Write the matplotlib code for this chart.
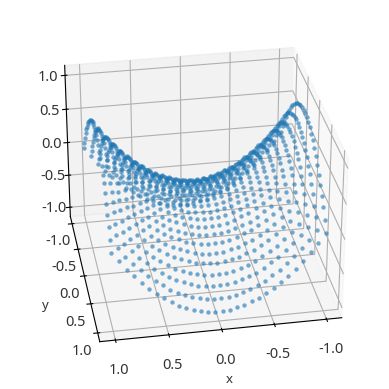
import matplotlib
matplotlib.use('Agg')
import matplotlib.pyplot as plt
import numpy as np

plt.rcParams['font.family'] = ['Noto Sans', 'DejaVu Sans']
plt.rcParams['axes.unicode_minus'] = False

x_values = [-1.0, -0.931, -0.862, -0.793, -0.724, -0.655, -0.586, -0.517, -0.448, -0.379,
            -0.310, -0.241, -0.172, -0.103, -0.034, 0.034, 0.103, 0.172, 0.241, 0.310,
            0.379, 0.448, 0.517, 0.586, 0.655, 0.724, 0.793, 0.862, 0.931, 1.0]
y_values = x_values

# one half of each row, the other half mirrors it; rows repeat from the far side to the near side
z_half_rows = [
    [0.00, -0.13, -0.26, -0.37, -0.48, -0.57, -0.66, -0.73, -0.80, -0.86, -0.90, -0.94, -0.97, -0.99, -1.00],
    [0.13, 0.00, -0.13, -0.24, -0.35, -0.44, -0.53, -0.60, -0.67, -0.73, -0.77, -0.81, -0.84, -0.86, -0.87],
    [0.26, 0.13, 0.00, -0.11, -0.22, -0.31, -0.40, -0.47, -0.54, -0.60, -0.64, -0.68, -0.71, -0.73, -0.74],
    [0.37, 0.24, 0.11, 0.00, -0.11, -0.20, -0.29, -0.36, -0.43, -0.49, -0.53, -0.57, -0.60, -0.62, -0.63],
    [0.48, 0.35, 0.22, 0.11, 0.00, -0.09, -0.18, -0.25, -0.32, -0.38, -0.42, -0.46, -0.49, -0.51, -0.52],
    [0.57, 0.44, 0.31, 0.20, 0.09, 0.00, -0.09, -0.16, -0.23, -0.29, -0.33, -0.37, -0.40, -0.42, -0.43],
    [0.66, 0.53, 0.40, 0.29, 0.18, 0.09, 0.00, -0.07, -0.14, -0.20, -0.24, -0.28, -0.31, -0.33, -0.34],
    [0.73, 0.60, 0.47, 0.36, 0.25, 0.16, 0.07, 0.00, -0.07, -0.13, -0.17, -0.21, -0.24, -0.26, -0.27],
    [0.80, 0.67, 0.54, 0.43, 0.32, 0.23, 0.14, 0.07, 0.00, -0.06, -0.10, -0.14, -0.17, -0.19, -0.20],
    [0.86, 0.73, 0.60, 0.49, 0.38, 0.29, 0.20, 0.13, 0.06, 0.00, -0.04, -0.08, -0.11, -0.13, -0.14],
    [0.90, 0.77, 0.64, 0.53, 0.42, 0.33, 0.24, 0.17, 0.10, 0.04, 0.00, -0.04, -0.07, -0.09, -0.10],
    [0.94, 0.81, 0.68, 0.57, 0.46, 0.37, 0.28, 0.21, 0.14, 0.08, 0.04, 0.00, -0.03, -0.05, -0.06],
    [0.97, 0.84, 0.71, 0.60, 0.49, 0.40, 0.31, 0.24, 0.17, 0.11, 0.07, 0.03, 0.00, -0.02, -0.03],
    [0.99, 0.86, 0.73, 0.62, 0.51, 0.42, 0.33, 0.26, 0.19, 0.13, 0.09, 0.05, 0.02, 0.00, -0.01],
    [1.00, 0.87, 0.74, 0.63, 0.52, 0.43, 0.34, 0.27, 0.20, 0.14, 0.10, 0.06, 0.03, 0.01, 0.00],
]
tick_values = [-1.0, -0.5, 0.0, 0.5, 1.0]

z_rows = [r + r[::-1] for r in z_half_rows]
z_rows = z_rows + z_rows[::-1]
X, Y = np.meshgrid(x_values, y_values)
Z = np.array(z_rows)

fig = plt.figure(figsize=(3.89, 3.89), dpi=100)
ax = fig.add_subplot(projection='3d')
ax.set_position([0.025, 0.0235, 0.955, 0.955])
ax.scatter(X.ravel(), Y.ravel(), Z.ravel(), s=10, color='tab:blue', depthshade=False, alpha=0.62, linewidths=0)
ax.view_init(elev=30, azim=80)
ax.set_xticks(tick_values)
ax.set_yticks(tick_values)
ax.set_zticks(tick_values)
ax.tick_params(labelsize=10.5, pad=1, labelcolor='#333333')
ax.tick_params(axis='x', pad=3)
ax.set_xlabel('x', fontsize=9.5, labelpad=3, color='#333333')
ax.set_ylabel('y', fontsize=9.5, labelpad=3, color='#333333')

fig.savefig('out.png', dpi=100)
